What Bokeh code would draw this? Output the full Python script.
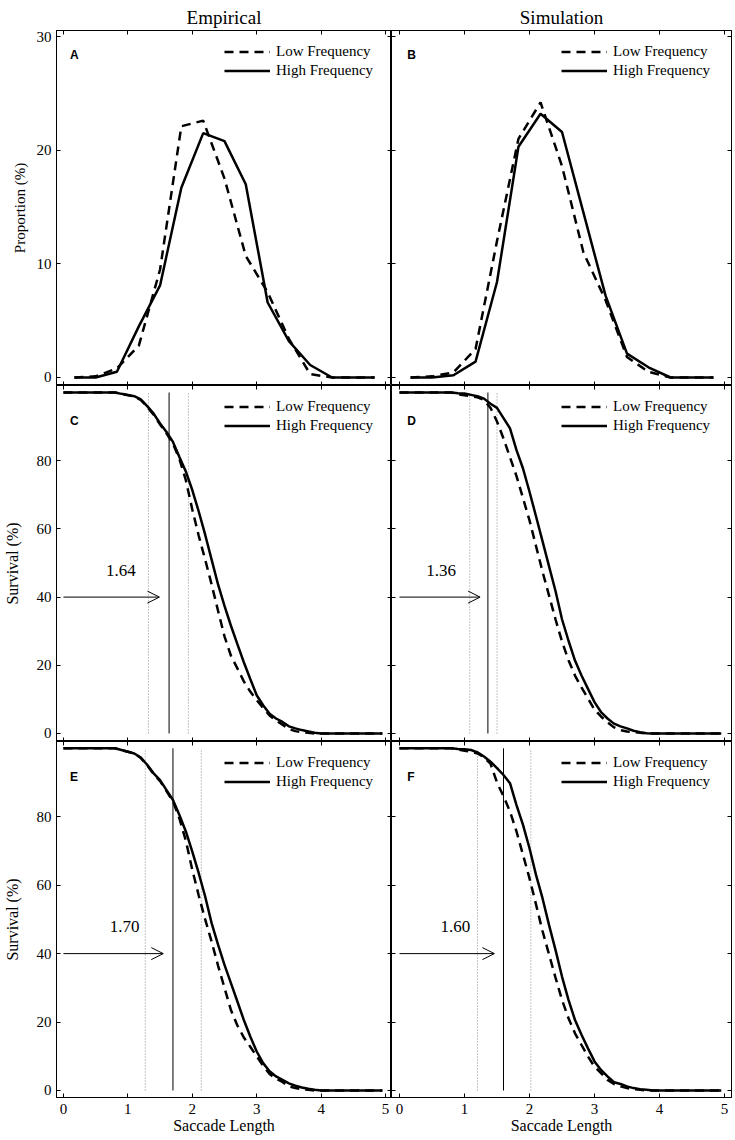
from bokeh.plotting import figure
from bokeh.layouts import gridplot
from bokeh.models import (Range1d, LinearAxis, FixedTicker, Label, Arrow, OpenHead,
                          Legend, LegendItem)
from bokeh.embed import file_html
from bokeh.resources import INLINE

SERIF = "Liberation Serif"
SANS = "Liberation Sans"

# ---------------- data ----------------
bin_centers = [0.17, 0.5, 0.83, 1.17, 1.5, 1.83, 2.17, 2.5, 2.83, 3.17, 3.5, 3.83, 4.17, 4.5, 4.83]
emp_prop_low = [0, 0.1, 0.8, 2.8, 9.5, 22.1, 22.6, 17.5, 10.7, 7.5, 3.4, 0.3, 0, 0, 0]
emp_prop_high = [0, 0, 0.5, 4.5, 8.1, 16.7, 21.5, 20.8, 17.0, 6.6, 3.2, 1.1, 0, 0, 0]
sim_prop_low = [0, 0.1, 0.45, 2.5, 12.0, 21.0, 24.2, 18.6, 11.0, 6.8, 1.8, 0.5, 0, 0, 0]
sim_prop_high = [0, 0, 0.2, 1.4, 8.4, 20.3, 23.2, 21.6, 14.5, 7.2, 2.1, 0.9, 0, 0, 0]

surv_x = [0.0, 0.8, 0.9, 1.0, 1.1, 1.2, 1.3, 1.4, 1.5, 1.6, 1.7, 1.8, 1.9, 2.0, 2.1, 2.2,
          2.3, 2.4, 2.5, 2.6, 2.7, 2.8, 2.9, 3.0, 3.1, 3.2, 3.3, 3.4, 3.5, 3.6, 3.7, 3.8,
          3.9, 4.0, 4.95]
# panel C (empirical)
c_low = [100, 100, 99.6, 99.2, 98.8, 97.8, 95.8, 93.5, 90.6, 88.0, 85.0, 80.5, 74.3, 65.7,
         58.0, 51.0, 43.7, 36.0, 28.5, 22.8, 19.1, 15.3, 12.3, 9.8, 7.5, 5.3, 3.8, 2.6, 1.3,
         0.7, 0.4, 0.2, 0, 0, 0]
c_high = [100, 100, 99.6, 99.3, 98.9, 98.0, 96.0, 93.8, 90.9, 88.4, 85.5, 81.1, 76.8, 71.4,
          65.1, 58.3, 51.0, 43.7, 37.4, 31.6, 26.2, 20.9, 16.0, 11.2, 8.3, 5.8, 4.4, 3.4, 2.1,
          1.5, 1.0, 0.6, 0.2, 0, 0]
# panel D (simulation)
d_low = [100, 100, 99.5, 99.2, 98.9, 98.6, 97.8, 95.5, 91.5, 86.5, 81.0, 75.5, 69.0, 62.5,
         55.0, 47.5, 40.5, 33.5, 27.0, 21.5, 17.0, 13.5, 10.3, 7.0, 5.0, 3.3, 1.8, 1.0, 0.6,
         0.4, 0.2, 0, 0, 0, 0]
d_high = [100, 100, 99.8, 99.7, 99.3, 98.9, 98.2, 96.7, 95.5, 92.5, 89.5, 83.1, 77.7, 70.9,
          63.7, 56.4, 49.1, 41.8, 33.5, 27.2, 21.4, 17.0, 13.1, 9.2, 6.3, 4.4, 2.9, 2.1, 1.5,
          0.8, 0.4, 0.1, 0, 0, 0]
# panel E (empirical)
e_low = [100, 100, 99.5, 99.0, 98.5, 97.2, 95.0, 92.5, 90.4, 87.5, 84.5, 79.5, 73.0, 64.5,
         57.0, 50.0, 43.5, 36.5, 30.0, 23.5, 19.0, 15.5, 12.8, 10.0, 7.2, 4.8, 3.5, 2.5, 1.2,
         0.7, 0.4, 0.2, 0, 0, 0]
e_high = [100, 100, 99.5, 99.0, 98.5, 97.3, 95.2, 92.7, 90.7, 87.8, 84.9, 80.5, 75.7, 69.8,
          63.5, 56.7, 48.9, 42.6, 36.7, 31.4, 26.0, 20.6, 15.8, 11.4, 8.0, 5.6, 4.1, 3.1, 2.1,
          1.4, 0.9, 0.5, 0.2, 0, 0]
# panel F (simulation)
f_low = [100, 100, 99.6, 99.3, 99.0, 98.5, 97.4, 95.5, 90.0, 86.0, 81.5, 75.7, 68.9, 62.0,
         54.4, 46.6, 39.8, 33.0, 26.5, 21.1, 16.7, 13.3, 9.9, 7.0, 5.1, 3.1, 1.9, 1.2, 0.7,
         0.4, 0.2, 0, 0, 0, 0]
f_high = [100, 100, 99.8, 99.7, 99.5, 98.8, 97.6, 96.1, 94.2, 92.2, 89.8, 83.4, 77.6, 70.8,
          63.0, 56.2, 48.4, 41.1, 33.3, 26.5, 20.6, 16.3, 12.3, 8.5, 6.0, 4.1, 2.4, 1.9, 1.2,
          0.7, 0.4, 0.2, 0, 0, 0]

# divergence points (C, D, E, F), their bounds and arrow ends
div_point = [1.64, 1.36, 1.70, 1.60]
div_lower = [1.32, 1.08, 1.27, 1.20]
div_upper = [1.94, 1.50, 2.14, 2.02]
arrow_end = [1.49, 1.24, 1.55, 1.46]
arrow_level = 40

x_ticks = [0, 1, 2, 3, 4, 5]
prop_ticks = [0, 10, 20, 30]
surv_ticks = [0, 20, 40, 60, 80]

col_titles = ["Empirical", "Simulation"]
letters = [["A", "B"], ["C", "D"], ["E", "F"]]

# ---------------- layout helpers ----------------
PX_PER_UNIT = 65.0


def add_axis(p, side, ticks, labeled, axis_label=None, standoff=5, label_standoff=5,
             label_size="15px"):
    ax = LinearAxis(ticker=FixedTicker(ticks=ticks))
    ax.major_tick_in = 4
    ax.major_tick_out = 0
    ax.minor_tick_in = 0
    ax.minor_tick_out = 0
    ax.axis_line_color = "black"
    ax.major_tick_line_color = "black"
    if labeled:
        ax.major_label_text_font = SERIF
        ax.major_label_text_font_size = "15px"
        ax.major_label_text_color = "black"
        ax.major_label_standoff = standoff
        if axis_label:
            ax.axis_label = axis_label
            ax.axis_label_text_font = SERIF
            ax.axis_label_text_font_size = label_size
            ax.axis_label_text_font_style = "normal"
            ax.axis_label_text_color = "black"
            ax.axis_label_standoff = label_standoff
    else:
        ax.major_label_overrides = {t: "" for t in ticks}
        ax.major_label_text_font_size = "0px"
        ax.major_label_standoff = 0
    p.add_layout(ax, side)
    return ax


def make_panel(col, rowi):
    left = col == 0
    bottom = rowi == 2
    fw = 338 if left else 340
    fh = 355 if rowi == 0 else 356
    bl = 53 if left else 0
    br = 0 if left else 4
    bt = 30 if rowi == 0 else 0
    bb = 43 if bottom else 0
    x0 = -7 / PX_PER_UNIT if left else -8 / PX_PER_UNIT
    yr = [(-0.704, 30.53), (-2.346, 102.05), (-2.046, 101.99)][rowi]
    p = figure(width=bl + fw + br, height=bt + fh + bb,
               x_range=Range1d(x0, x0 + fw / PX_PER_UNIT),
               y_range=Range1d(*yr),
               x_axis_location=None, y_axis_location=None,
               toolbar_location=None, output_backend="svg",
               min_border_left=bl, min_border_right=br,
               min_border_top=bt, min_border_bottom=bb)
    p.xgrid.visible = False
    p.ygrid.visible = False
    p.outline_line_color = "black"
    p.outline_line_width = 1
    p.background_fill_color = "white"
    p.border_fill_color = "white"

    yt = prop_ticks if rowi == 0 else surv_ticks
    ylab = "Proportion (%)" if rowi == 0 else "Survival (%)"
    add_axis(p, "left", yt, left, ylab, standoff=5,
             label_standoff=6 if rowi == 0 else 13,
             label_size="15px" if rowi == 0 else "16px")
    add_axis(p, "right", yt, False)
    add_axis(p, "above", x_ticks, False)
    add_axis(p, "below", x_ticks, bottom, "Saccade Length", standoff=6, label_standoff=0,
             label_size="16px")

    if rowi == 0:
        xs = bin_centers
        low, high = (emp_prop_low, emp_prop_high) if left else (sim_prop_low, sim_prop_high)
    else:
        xs = surv_x
        low, high = {(1, 0): (c_low, c_high), (1, 1): (d_low, d_high),
                     (2, 0): (e_low, e_high), (2, 1): (f_low, f_high)}[(rowi, col)]
        k = (rowi - 1) * 2 + col
        thr = div_point[k]
        p.segment(x0=[div_lower[k], div_upper[k]], y0=[0, 0],
                  x1=[div_lower[k], div_upper[k]], y1=[100, 100],
                  line_color="#8c8c8c", line_width=1, line_dash="1 2")
        p.segment(x0=[thr], y0=[0], x1=[thr], y1=[100], line_color="black", line_width=1)
        p.add_layout(Arrow(end=OpenHead(size=12, line_width=1, line_color="black"),
                           x_start=0, y_start=arrow_level, x_end=arrow_end[k], y_end=arrow_level,
                           line_width=1, line_color="black"))
        p.add_layout(Label(x=arrow_end[k] - 0.6, y=47.9, text=f"{thr:.2f}",
                           text_align="center", text_baseline="alphabetic",
                           text_font=SERIF, text_font_size="17px", text_color="black"))

    r_low = p.line(xs, low, line_color="black", line_width=2.5, line_dash="9 6")
    r_high = p.line(xs, high, line_color="black", line_width=2.5)

    leg = Legend(items=[LegendItem(label="Low Frequency", renderers=[r_low]),
                        LegendItem(label="High Frequency", renderers=[r_high])],
                 location=(168 if left else 170, fh - 50),
                 glyph_width=46, glyph_height=19, label_height=19, spacing=0,
                 padding=4, margin=0, label_standoff=6,
                 label_text_font=SERIF, label_text_font_size="15px",
                 label_text_color="black",
                 border_line_color=None, background_fill_alpha=0)
    p.add_layout(leg)

    # panel letter
    ly = 28.4 if rowi == 0 else 91.7
    p.add_layout(Label(x=0.1 if left else 0.12, y=ly, text=letters[rowi][col],
                       text_align="left", text_baseline="middle",
                       text_font=SANS, text_font_style="bold",
                       text_font_size="12px", text_color="black"))

    if rowi == 0:
        p.title.text = col_titles[col]
        p.title.align = "center"
        p.title.vertical_align = "top"
        p.title.text_font = SERIF
        p.title.text_font_size = "19px"
        p.title.text_font_style = "normal"
        p.title.text_color = "black"
        p.title.standoff = 2
    return p


grid = [[make_panel(c, r) for c in range(2)] for r in range(3)]
layout = gridplot(grid, toolbar_location=None, merge_tools=False)

open("out.html", "w").write(file_html(layout, INLINE))
